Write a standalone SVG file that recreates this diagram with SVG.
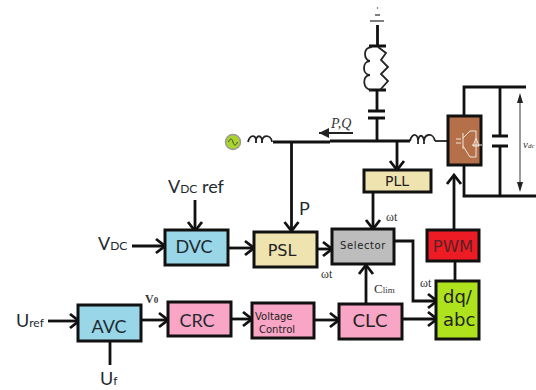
<svg xmlns="http://www.w3.org/2000/svg" width="536" height="390" viewBox="0 0 536 390">
<style>
.box{stroke:#111;stroke-width:3}
.w{fill:none;stroke:#111;stroke-width:2.800}
.a{fill:none;stroke:#111;stroke-width:2.800;marker-end:url(#arr)}
.c{fill:none;stroke:#222;stroke-width:1.800}
.l{font-family:Lato,"Open Sans",sans-serif;fill:#1f2a30}
.d{font-family:"DejaVu Sans",sans-serif;fill:#222}
.s{font-family:"Liberation Serif",serif;fill:#333}
.m{text-anchor:middle}
</style>
<defs>
<marker id="arr" markerUnits="userSpaceOnUse" markerWidth="16" markerHeight="18" refX="11" refY="9" orient="auto" overflow="visible">
<path d="M2 2L11 9L2 16" fill="none" stroke="#111" stroke-width="2.800"/>
</marker>
<marker id="solid" markerUnits="userSpaceOnUse" markerWidth="12" markerHeight="10" refX="10" refY="5" orient="auto">
<path d="M0 0L10 5L0 10z" fill="#222"/>
</marker>
</defs>

<g id="connectors">
<path class="w" d="M273 142H330M330 141H410"/>
<path class="c" d="M435 141H448" stroke="#666"/>
<path class="a" d="M291.500 142V231"/>
<path class="a" d="M397 141V170"/>
<path class="a" d="M373 192V229"/>
<path class="a" d="M394 241H413V301H437"/>
<path class="a" d="M402 319H437"/>
<path class="a" d="M366 304V265"/>
<path class="w" d="M455 281V261"/>
<path class="a" d="M454 230V175"/>
<path class="a" d="M314 320H339"/>
<path class="a" d="M231 319H252"/>
<path class="a" d="M141 320H168"/>
<path class="a" d="M48 321H79"/>
<path class="w" d="M110 341V365"/>
<path class="a" d="M132 246H165"/>
<path class="a" d="M195 200V231"/>
<path class="a" d="M228 248H254"/>
<path class="a" d="M317 249H332"/>
<path d="M353 133H319" fill="none" stroke="#222" stroke-width="1.800" marker-end="url(#solid)"/>
<path class="w" d="M377.500 25V46M369 46H386M369 90H386M377 90V111M368 111H385M368 118H385M377 118V141" />
<path d="M375 15H380M370 21H384" fill="none" stroke="#555" stroke-width="1.400"/>
<circle cx="377.500" cy="8" r=".8" fill="#555"/>
<path class="c" d="M372 47C362 47 364 61 370 61M370 61C362 61 362 75 370 75M370 75C362 75 362 90 372 90"/>
<path class="c" d="M378 47L386 53L381 60L388 67L381 74L388 81L380 90"/>
<path class="c" d="M248 142C250 134 257 134 256 143C255 134 263 134 262 143C261 134 271 134 272 142"/>
<path class="c" d="M410 141C412 132 419 133 418 144C417 133 425 133 424 144C423 133 433 132 435 141"/>
<path class="w" d="M464 116V87H526M464 165V196H536M500 87V136M492 136H508M492 146H508M500 146V196"/>
<path d="M520 102V184" fill="none" stroke="#333" stroke-width="1"/>
<path d="M520 93L517 103H523zM520 192L517 182H523z" fill="#222"/>
</g>

<g id="source"><circle cx="233" cy="142" r="7.500" fill="#a8d42c" stroke="#999" stroke-width="1.500"/>
<path d="M228.500 142C230 138 232 138 233 142S236 146 237.500 142" fill="none" stroke="#444"/></g>

<g id="converter"><rect class="box" x="448" y="116" width="33" height="49" fill="#b5704a"/>
<path d="M456 139H461M456 143H461M463 133V149M463 138L470 131H476V157H470L463 146M472 145H482" fill="none" stroke="#efe6dc" stroke-width="1"/>
<path d="M473 146L476 138L479 146z" fill="none" stroke="#efe6dc"/>
</g>

<g id="pll"><rect class="box" x="364" y="170" width="67" height="22" fill="#efe3b0"/><text class="d m" x="397" y="186" font-size="14">PLL</text></g>
<g id="dvc"><rect class="box" x="165" y="230" width="63" height="35" fill="#98d6e8"/><text class="l m" x="194" y="253" font-size="18">DVC</text></g>
<g id="psl"><rect class="box" x="254" y="232" width="63" height="35" fill="#efe3b0"/><text class="d m" x="282" y="256" font-size="16">PSL</text></g>
<g id="selector"><rect class="box" x="332" y="229" width="62" height="35" fill="#bdbdbd"/><text class="d m" x="363" y="249" font-size="10" letter-spacing=".6">Selector</text></g>
<g id="pwm"><rect class="box" x="427" y="230" width="52" height="31" fill="#ed1c24"/><text class="d m" x="453" y="252" font-size="16.500" style="fill:#5a2226">PWM</text></g>
<g id="dqabc"><rect class="box" x="436" y="281" width="43" height="58" fill="#aee21c"/><text class="d" x="443" y="303" font-size="18">dq/</text><text class="d" x="443" y="326" font-size="18">abc</text></g>
<g id="clc"><rect class="box" x="339" y="304" width="63" height="35" fill="#f9a5c5"/><text class="d m" x="370" y="327" font-size="18">CLC</text></g>
<g id="voltage-control"><rect class="box" x="252" y="303" width="62" height="35" fill="#f9a5c5"/><text class="d" x="255" y="320" font-size="10">Voltage</text><text class="d" x="259" y="333" font-size="10">Control</text></g>
<g id="crc"><rect class="box" x="168" y="302" width="63" height="34" fill="#f9a5c5"/><text class="l m" x="197" y="327" font-size="18">CRC</text></g>
<g id="avc"><rect class="box" x="78" y="305" width="63" height="36" fill="#98d6e8"/><text class="l m" x="109" y="333" font-size="18">AVC</text></g>

<g id="labels">
<text class="l" x="168" y="193" font-size="18">V<tspan font-size="12">DC</tspan> <tspan font-size="18">ref</tspan></text>
<text class="l" x="98" y="250" font-size="18">V<tspan font-size="12">DC</tspan></text>
<text class="l" x="16" y="327" font-size="18">U<tspan font-size="12">ref</tspan></text>
<text class="l" x="100" y="385" font-size="18">U<tspan font-size="12">f</tspan></text>
<text class="l" x="299" y="215" font-size="18">P</text>
<text class="s" x="145" y="303" font-size="12" font-weight="bold" fill="#111">V<tspan font-size="9">0</tspan></text>
<text class="s" x="331" y="128" font-size="14" font-style="italic">P,Q</text>
<text class="s" x="321" y="278" font-size="12">ωt</text>
<text class="s" x="386" y="221" font-size="12">ωt</text>
<text class="s" x="420" y="287" font-size="12">ωt</text>
<text class="s" x="374" y="293" font-size="13">C<tspan font-size="9">lim</tspan></text>
<text class="s" x="523" y="148" font-size="11" font-style="italic">v<tspan font-size="7">dc</tspan></text>
</g>
</svg>
